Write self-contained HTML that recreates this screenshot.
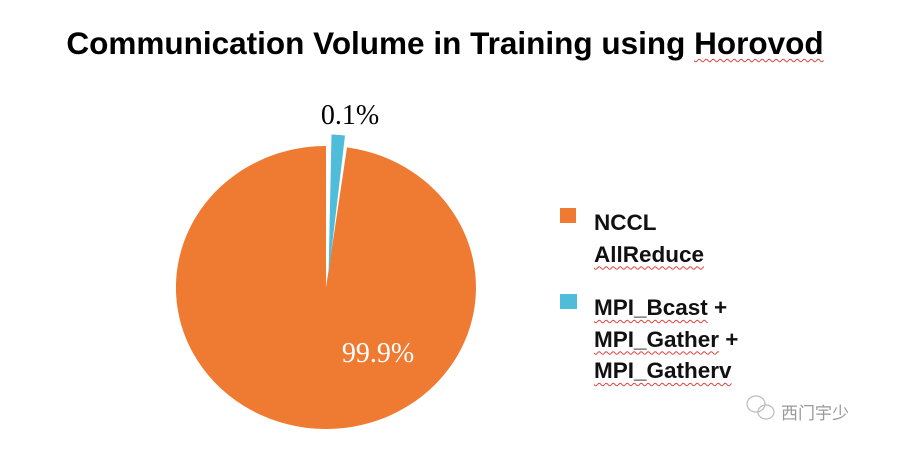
<!DOCTYPE html>
<html><head><meta charset="utf-8"><style>
body{margin:0;width:900px;height:452px;background:#fff;position:relative;overflow:hidden;font-family:"Liberation Sans",sans-serif}
.t{position:absolute;white-space:nowrap}
.w{text-decoration:underline wavy #e0403a;text-decoration-thickness:1px;text-underline-offset:4px}
.lg{font-size:22.5px;font-weight:bold;color:#111;line-height:31.5px}
</style></head><body>
<div class="t" style="left:0;width:890px;text-align:center;top:25px;font-size:31.5px;font-weight:bold;color:#000">Communication Volume in Training using <span class="w">Horovod</span></div>
<svg width="900" height="452" style="position:absolute;left:0;top:0">
<path d="M326,287.5 L347,147.4 A150,141.5 0 1,1 326,146 Z" fill="#ef7a32"/>
<path d="M328.5,276 L331.5,134.5 A150,141.5 0 0,1 345,135.5 Z" fill="#4fbcd9"/>
<text x="350" y="124" font-family="Liberation Serif" font-size="28" text-anchor="middle" fill="#000">0.1%</text>
<text x="378" y="362" font-family="Liberation Serif" font-size="28" text-anchor="middle" fill="#fff">99.9%</text>
<rect x="560" y="208" width="16" height="15" fill="#ef7a32"/>
<rect x="560" y="294" width="17" height="15" fill="#4fbcd9"/>
<g fill="none" stroke="#bbb" stroke-width="1.2"><ellipse cx="756" cy="404" rx="9" ry="8"/><ellipse cx="766" cy="412" rx="8" ry="7"/></g>
</svg>
<div class="t lg" style="left:594px;top:207px">NCCL<br><span class="w">AllReduce</span></div>
<div class="t lg" style="left:594px;top:292px"><span class="w">MPI_Bcast</span> +<br><span class="w">MPI_Gather</span> +<br><span class="w">MPI_Gatherv</span></div>
<div class="t" style="left:781px;top:399px;font-size:17px;color:#999;font-family:'Liberation Sans','Noto Sans CJK SC',sans-serif">西门宇少</div>
</body></html>
